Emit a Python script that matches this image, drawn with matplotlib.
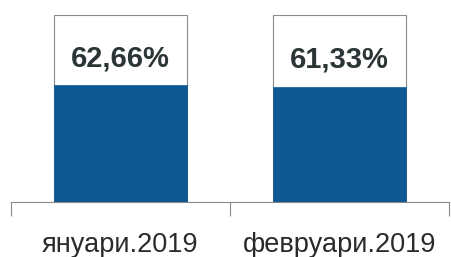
import matplotlib
matplotlib.use("Agg")
import matplotlib.pyplot as plt

categories = ["януари.2019", "февруари.2019"]
values = [62.66, 61.33]
labels = ["62,66%", "61,33%"]
total = 100

plt.rcParams['font.family'] = ['Liberation Sans', 'DejaVu Sans']

fig = plt.figure(figsize=(4.52, 2.57), dpi=100)
ax = fig.add_axes([11/452, 55/257, 438/452, 187/257])

x = list(range(len(categories)))
w = 0.61
ax.bar(x, [total]*len(x), width=w, color='white', edgecolor='#8a8a8a', linewidth=0.8, zorder=2)
ax.bar(x, values, width=w, color='#0d5893', edgecolor='#0d5893', linewidth=0.5, zorder=3)
for xi, v, lab in zip(x, values, labels):
    ax.text(xi, v + (total - v) * 0.38, lab, ha='center', va='center',
            fontsize=21, fontweight='bold', color='#2b3535', zorder=4)

ax.set_xlim(-0.5, len(x) - 0.5)
ax.set_ylim(0, total)
for s in ['top', 'right', 'left']:
    ax.spines[s].set_visible(False)
ax.spines['bottom'].set_color('#8a8a8a')
ax.spines['bottom'].set_linewidth(0.8)
ax.set_yticks([])
ax.set_xticks(x)
ax.set_xticklabels(categories, fontsize=19.5, color='#2a2a2a')
ax.tick_params(axis='x', which='major', length=0, pad=21.5)
ax.set_xticks([-0.5 + i for i in range(len(x) + 1)], minor=True)
ax.tick_params(axis='x', which='minor', length=10, color='#8a8a8a', width=0.8)

fig.savefig("out.png", dpi=100)
